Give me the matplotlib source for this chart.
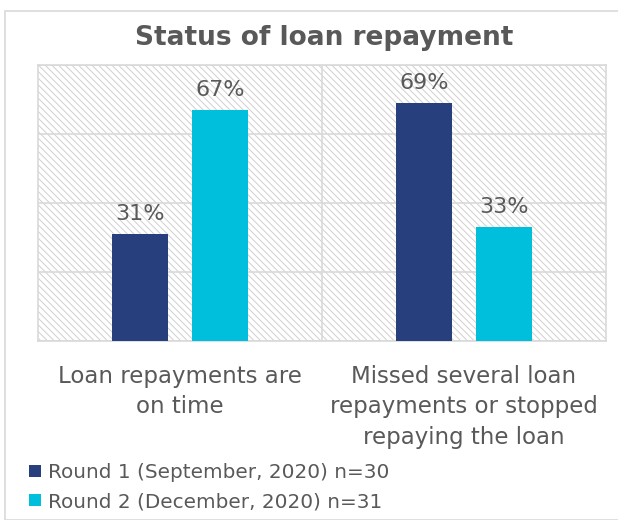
import numpy as np
import matplotlib
matplotlib.use('Agg')
from matplotlib import pyplot as plt
from matplotlib.patches import Rectangle

categories = ["Loan repayments are\non time",
              "Missed several loan\nrepayments or stopped\nrepaying the loan"]
series_names = ["Round 1 (September, 2020) n=30",
                "Round 2 (December, 2020) n=31"]
round1 = [31, 69]
round2 = [67, 33]

navy = '#283F7E'
cyan = '#00BFDD'
txt = '#595959'
grid = '#D9D9D9'

plt.rcParams['hatch.linewidth'] = 0.7
plt.rcParams['hatch.color'] = '#D0D0D0'

W, H = 618, 520
fig = plt.figure(figsize=(W / 100, H / 100), dpi=100)

# outer chart frame
fig.patches.append(Rectangle((5 / W, 0), 1.2, 1 - 11 / H, transform=fig.transFigure,
                             fill=False, edgecolor='#D9D9D9', lw=1.2))

ax = fig.add_axes([38 / W, 1 - 341 / H, (606 - 38) / W, (341 - 65) / H])

# hatched plot background
ax.add_patch(Rectangle((0, 0), 1, 1, transform=ax.transAxes, facecolor='white',
                       edgecolor='#D0D0D0', hatch='\\\\\\\\\\', lw=0, zorder=0))

x = np.arange(len(categories))
bw = 0.197
off = 0.14
b1 = ax.bar(x - off, round1, bw, color=navy, zorder=3, label=series_names[0])
b2 = ax.bar(x + off, round2, bw, color=cyan, zorder=3, label=series_names[1])

for bars, vals in ((b1, round1), (b2, round2)):
    for b, v in zip(bars, vals):
        ax.text(b.get_x() + b.get_width() / 2, v + 3, f"{v}%", ha='center', va='bottom',
                fontsize=16, color=txt, zorder=4)

ax.set_xlim(-0.5, 1.5)
ax.set_ylim(0, 80)
ax.set_yticks([0, 20, 40, 60, 80])
ax.set_yticklabels([])
ax.tick_params(left=False, bottom=False, labelbottom=False)
ax.grid(axis='y', color=grid, lw=1.2, zorder=1)
ax.axvline(0.5, color=grid, lw=1.2, zorder=1)
for s in ax.spines.values():
    s.set_color(grid)
    s.set_linewidth(1.2)

for xi, c in zip(x, categories):
    ax.text(xi, -7.0, c, ha='center', va='top', fontsize=16.5, color=txt,
            linespacing=1.4)

fig.text(324 / W, 1 - 38 / H, "Status of loan repayment", ha='center', va='center',
         fontsize=19, fontweight='bold', color=txt)

leg = fig.legend(handles=[b1, b2], labels=series_names, loc='upper left',
                 bbox_to_anchor=(21 / W, 1 - 455 / H), frameon=False, fontsize=14.4,
                 handlelength=0.6, handleheight=0.6, handletextpad=0.35,
                 labelspacing=0.5, borderaxespad=0)
for t in leg.get_texts():
    t.set_color(txt)

fig.savefig('out.png', dpi=100)
